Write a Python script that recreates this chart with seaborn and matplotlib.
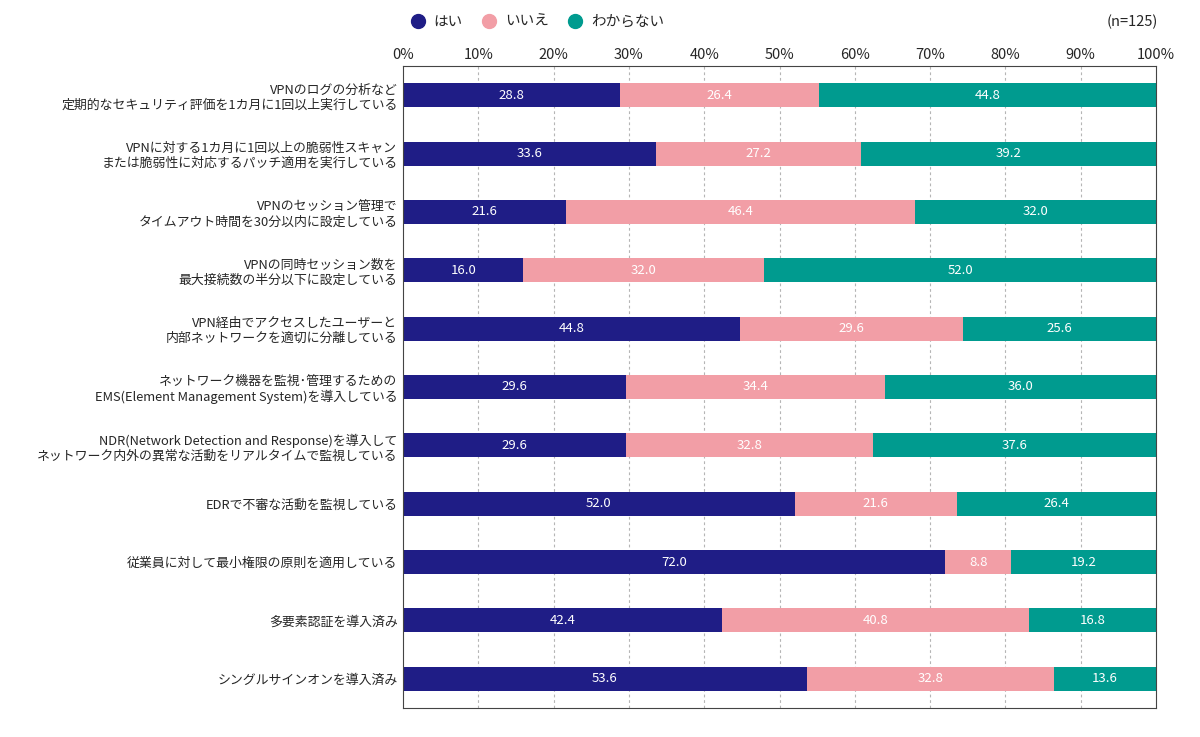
import numpy as np
import pandas as pd
import matplotlib
matplotlib.use('Agg')
import matplotlib.pyplot as plt
import seaborn as sns

categories = [
    'VPNのログの分析など\n定期的なセキュリティ評価を1カ月に1回以上実行している',
    'VPNに対する1カ月に1回以上の脆弱性スキャン\nまたは脆弱性に対応するパッチ適用を実行している',
    'VPNのセッション管理で\nタイムアウト時間を30分以内に設定している',
    'VPNの同時セッション数を\n最大接続数の半分以下に設定している',
    'VPN経由でアクセスしたユーザーと\n内部ネットワークを適切に分離している',
    'ネットワーク機器を監視･管理するための\nEMS(Element Management System)を導入している',
    'NDR(Network Detection and Response)を導入して\nネットワーク内外の異常な活動をリアルタイムで監視している',
    'EDRで不審な活動を監視している',
    '従業員に対して最小権限の原則を適用している',
    '多要素認証を導入済み',
    'シングルサインオンを導入済み',
]
hai = [28.8, 33.6, 21.6, 16.0, 44.8, 29.6, 29.6, 52.0, 72.0, 42.4, 53.6]
iie = [26.4, 27.2, 46.4, 32.0, 29.6, 34.4, 32.8, 21.6, 8.8, 40.8, 32.8]
wakaranai = [44.8, 39.2, 32.0, 52.0, 25.6, 36.0, 37.6, 26.4, 19.2, 16.8, 13.6]
series_names = ['はい', 'いいえ', 'わからない']
xticks = [0, 10, 20, 30, 40, 50, 60, 70, 80, 90, 100]
note = '(n=125)'

colors = ['#1f1d86', '#f29ea6', '#009b8f']

df = pd.DataFrame({'cat': categories, 'hai': hai, 'iie': iie, 'wak': wakaranai})
df['c1'] = df['hai']
df['c2'] = df['hai'] + df['iie']
df['c3'] = df['c2'] + df['wak']

sns.set_theme(style='white')
plt.rcParams['font.family'] = ['Noto Sans CJK JP', 'DejaVu Sans']

fig = plt.figure(figsize=(12, 7.37), dpi=100)
ax = fig.add_axes([403 / 1200, 1 - 708 / 737, (1156 - 403) / 1200, (708 - 66) / 737])

# stacked bars: draw cumulative totals back to front
for col, c in [('c3', colors[2]), ('c2', colors[1]), ('c1', colors[0])]:
    sns.barplot(data=df, x=col, y='cat', orient='h', color=c, width=0.41,
                saturation=1, ax=ax, linewidth=0)

# value labels
for i in range(len(df)):
    starts = [0, df['c1'][i], df['c2'][i]]
    vals = [df['hai'][i], df['iie'][i], df['wak'][i]]
    for s, v in zip(starts, vals):
        ax.text(s + v / 2, i, f'{v:.1f}', ha='center', va='center',
                color='white', fontsize=9.5)

ax.set_xlim(0, 100)
ax.set_ylim(len(df) - 0.5, -0.5)
ax.set_xticks(xticks)
ax.set_xticklabels([f'{t}%' for t in xticks], fontsize=10.5)
ax.xaxis.tick_top()
ax.tick_params(axis='x', length=0, pad=3)
ax.tick_params(axis='y', length=0, pad=4)
ax.set_yticks(range(len(df)))
ax.set_yticklabels(categories, fontsize=9.3, linespacing=1.2)
ax.set_xlabel('')
ax.set_ylabel('')
for t in xticks[1:-1]:
    ax.axvline(t, color='#b5b5b5', linestyle=(0, (2.5, 2.5)), linewidth=0.8, zorder=0)
ax.set_axisbelow(True)
for sp in ax.spines.values():
    sp.set_color('#444444')
    sp.set_linewidth(0.8)

# legend
handles = [plt.Line2D([], [], marker='o', linestyle='', markersize=10,
                      markerfacecolor=c, markeredgecolor=c) for c in colors]
fig.legend(handles, series_names, loc='center left',
           bbox_to_anchor=(390 / 1200, 1 - 22 / 737), ncol=3, frameon=False,
           fontsize=10.5, handletextpad=0.1, columnspacing=0.8)
fig.text(1158 / 1200, 1 - 22 / 737, note, ha='right', va='center', fontsize=10.5)

fig.savefig('out.png', dpi=100)
